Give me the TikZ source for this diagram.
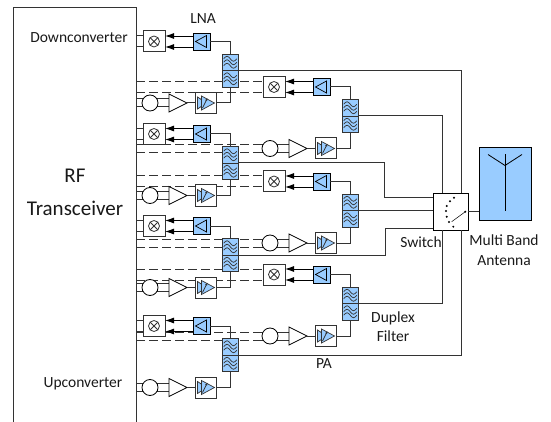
\documentclass[tikz,border=0pt]{standalone}
\usepackage{fontspec}
\setmainfont{Carlito}
\usepackage{xcolor}
\usepackage{tikz}
\usetikzlibrary{arrows.meta,positioning,calc,backgrounds,shapes.geometric}
\definecolor{rfblue}{HTML}{99CCFF}
\definecolor{rfline}{HTML}{333333}
\tikzset{
  x=1pt, y=-1pt,
  lbl/.style={align=center, font=\fontsize{15.5}{19.5}\selectfont, inner sep=0pt, text=black!90},
  rfbox/.style={draw=rfline, line width=1pt, minimum width=123pt, minimum height=418pt, outer sep=0pt},
  mixbox/.style={draw=rfline, line width=1pt, fill=white, minimum width=22pt, minimum height=21pt, inner sep=0pt, outer sep=0pt,
    path picture={\begin{scope}[shift={(path picture bounding box.center)}]
      \draw[line width=0.8pt] (0,0) circle (5.5);
      \draw[line width=0.8pt] (-3.8,-3.8) -- (3.8,3.8) (-3.8,3.8) -- (3.8,-3.8);
    \end{scope}}},
  lnabox/.style={draw=black, line width=0.9pt, fill=rfblue, minimum width=17pt, minimum height=17pt, inner sep=0pt, outer sep=0pt,
    path picture={\begin{scope}[shift={(path picture bounding box.center)}]
      \draw[line width=0.7pt] (-6,0) -- (5,-6) -- (5,6) -- cycle;
    \end{scope}}},
  filtbox/.style={draw=rfline, line width=0.9pt, fill=rfblue, minimum width=16.5pt, minimum height=16.5pt, inner sep=0pt, outer sep=0pt,
    path picture={\begin{scope}[shift={(path picture bounding box.center)}, line width=0.7pt]
      \draw (-6.5,-3.5) sin (-3.2,-6) cos (0,-3.5) sin (3.2,-1) cos (6.5,-3.5);
      \draw (-6.5,0) sin (-3.2,-2.5) cos (0,0) sin (3.2,2.5) cos (6.5,0);
      \draw (-6.5,3.5) sin (-3.2,1) cos (0,3.5) sin (3.2,6) cos (6.5,3.5);
    \end{scope}}},
  pabox/.style={draw=rfline, line width=1pt, fill=white, minimum width=21pt, minimum height=21pt, inner sep=0pt, outer sep=0pt,
    path picture={\begin{scope}[shift={(path picture bounding box.center)}, line width=0.7pt]
      \draw[fill=rfblue] (-8,-6) -- (1,0) -- (-8,6) -- cycle;
      \draw[fill=rfblue] (-4,-7) -- (9,0) -- (-4,7) -- cycle;
      \draw[-{Latex[length=3pt,width=2.5pt]}] (-3,5) -- (2,-5);
    \end{scope}}},
  loosc/.style={draw=black, line width=0.8pt, circle, fill=white, minimum size=16pt, inner sep=0pt, outer sep=0pt},
  drvamp/.style={draw=black, line width=0.8pt, isosceles triangle, isosceles triangle stretches, fill=white, minimum width=18pt, minimum height=18pt, inner sep=0pt, outer sep=0pt},
  swbox/.style={draw=black, line width=0.9pt, fill=white, minimum width=35pt, minimum height=37pt, inner sep=0pt, outer sep=0pt,
    path picture={\begin{scope}[shift={(path picture bounding box.center)}]
      \foreach \dx/\dy in {3.5/-13.8,-0.5/-10.2,-3.8/-5.5,-4.5/-0.5,-3.8/5.2,-1.5/10.5,2.8/15.2,14.8/0.2}
        \fill[black] (\dx,\dy) circle (1.1);
      \draw[line width=0.5pt] (14.8,0.2) -- (1.2,10.2);
    \end{scope}}},
  antbox/.style={draw=black, line width=0.9pt, fill=rfblue, minimum width=52pt, minimum height=73pt, inner sep=0pt, outer sep=0pt,
    path picture={\begin{scope}[shift={(path picture bounding box.center)}, line width=0.8pt]
      \draw (0,-29) -- (0,27.5);
      \draw (-17,-29) -- (0,-18) -- (17,-29);
    \end{scope}}},
  wire/.style={draw=rfline, line width=1pt},
  farr/.style={-{Latex[length=9pt,width=6pt]}, draw=black, line width=0.9pt},
  tail/.style={line width=1pt, draw=rfline, dash pattern=on 9pt off 4pt}
}
% one rx/tx branch: number, mixer x, mixer y, style of the lines to the transceiver
\newcommand{\trxchain}[4]{
  \node[mixbox] (m#1) at (#2,#3) {};
  \node[lnabox, right=28pt of m#1] (l#1) {};
  \node[filtbox, below right=4pt and 12pt of l#1] (fu#1) {};
  \node[filtbox, below=0pt of fu#1] (fd#1) {};
  \node[loosc, below=43pt of m#1, xshift=-4pt] (c#1) {};
  \node[drvamp, right=11pt of c#1] (t#1) {};
  \node[pabox, right=8pt of t#1] (p#1) {};
  \coordinate (mu#1) at ($(m#1.west)+(0,-5.5)$);
  \coordinate (md#1) at ($(m#1.west)+(0,5.5)$);
  \coordinate (eu#1) at ($(m#1.east)+(0,-5.5)$);
  \coordinate (ed#1) at ($(m#1.east)+(0,5.5)$);
  \coordinate (cu#1) at ($(c#1.west)+(0,-4)$);
  \coordinate (cd#1) at ($(c#1.west)+(0,4)$);
  \begin{scope}[on background layer]
  \draw[#4] (rf.east |- mu#1) -- (mu#1);
  \draw[#4] (rf.east |- md#1) -- (md#1);
  \draw[#4] (rf.east |- cu#1) -- (cu#1);
  \draw[#4] (rf.east |- cd#1) -- (cd#1);
  \draw[wire] (cu#1) -- (t#1.west |- cu#1);
  \draw[wire] (cd#1) -- (t#1.west |- cd#1);
  \end{scope}
  \draw[farr] (l#1.west |- eu#1) -- (eu#1);
  \draw[farr] (l#1.west |- ed#1) -- (ed#1);
  \draw[wire] (l#1.east) -| (fu#1.north);
  \draw[wire] (t#1.east) -- (p#1.west);
  \draw[wire] (p#1.east) -| (fd#1.south);
}

\begin{document}
\begin{tikzpicture}
\useasboundingbox (0,0) rectangle (551,422);
\node[rfbox] (rf) at (74.5,216.5) {};

\trxchain{1}{154}{41.5}{wire}
\trxchain{2}{274}{87}{tail}
\trxchain{3}{154}{134}{wire}
\trxchain{4}{274}{181.5}{tail}
\trxchain{5}{154}{226}{wire}
\trxchain{6}{274}{274.5}{tail}
\trxchain{7}{154}{326}{wire}

\node[swbox] (sw) at (450.5,211.5) {};
\node[antbox] (ant) at (505,183.5) {};
\coordinate (stl) at ($(sw.north)+(-8.5,0)$);
\coordinate (str) at ($(sw.north)+(11,0)$);
\coordinate (sbl) at ($(sw.south)+(-8.5,0)$);
\coordinate (sbr) at ($(sw.south)+(11,0)$);
\coordinate (slu) at ($(sw.west)+(0,-14.5)$);
\coordinate (sld) at ($(sw.west)+(0,16.5)$);
\coordinate (ka) at (slu -| 384,0);
\coordinate (kb) at (sld -| 385,0);

\draw[wire] (fu1.south east) -| (str);
\draw[wire] (fu2.south east) -| (stl);
\draw[wire] (fu3.south east) -| (ka) -- (slu);
\draw[wire] (fu4.south east) -- (fu4.south east -| sw.west);
\draw[wire] (fu5.south east) -| (kb) -- (sld);
\draw[wire] (fu6.south east) -| (sbl);
\draw[wire] (fu7.south east) -| (sbr);
\draw[wire] (sw.east) -- (sw.east -| ant.west);

\node[lbl] (dc) at (79,38) {Downconverter};
\node[lbl] (uc) at (83,384) {Upconverter};
\node[lbl, font=\fontsize{21}{33}\selectfont] (tr) at (75,192) {RF\\Transceiver};
\node[lbl] (ln) at (203,19) {LNA};
\node[lbl] (pa) at (324,364) {PA};
\node[lbl] (df) at (393,326.5) {Duplex\\Filter};
\node[lbl] (sl) at (421,242) {Switch};
\node[lbl] (mb) at (504,250) {Multi Band\\Antenna};
\end{tikzpicture}
\end{document}
